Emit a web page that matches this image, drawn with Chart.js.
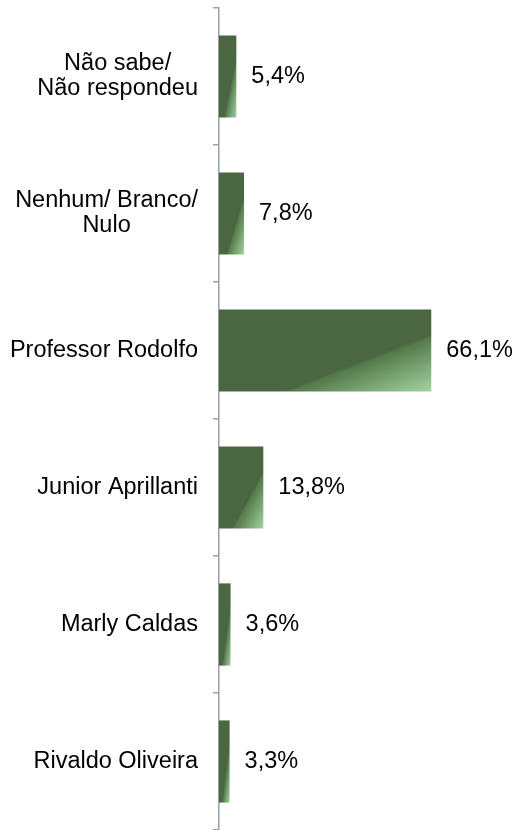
<!DOCTYPE html>
<html>
<head>
<meta charset="utf-8">
<script src="https://cdn.jsdelivr.net/npm/chart.js@4/dist/chart.umd.min.js"></script>
<style>
    html, body { margin: 0; padding: 0; background: #fff; }
    #wrap { width: 516px; height: 830px; position: relative; }
</style>
</head>
<body>
<div id="wrap"><canvas id="intencaoChart"></canvas></div>
<script>
const categories = [
    ['Não sabe/', 'Não respondeu'],
    ['Nenhum/ Branco/', 'Nulo'],
    ['Professor Rodolfo'],
    ['Junior Aprillanti'],
    ['Marly Caldas'],
    ['Rivaldo Oliveira']
];
const values = [5.4, 7.8, 66.1, 13.8, 3.6, 3.3];
const valueLabels = ['5,4%', '7,8%', '66,1%', '13,8%', '3,6%', '3,3%'];

const FONT = '23.5px "Liberation Sans", Arial, sans-serif';
const DARK = '#4a6741';
const LIGHT = '#a3d3a0';
const BAR_PCT = 0.6;

// diagonal fill, light corner at bottom right (like the office gradient)
const barFill = (context) => {
    const chart = context.chart;
    const area = chart.chartArea;
    if (!area || context.dataIndex === undefined) return DARK;
    const xs = chart.scales.x;
    const ys = chart.scales.y;
    const x0 = xs.getPixelForValue(0);
    const x1 = xs.getPixelForValue(values[context.dataIndex]);
    const thick = (area.bottom - area.top) / categories.length * BAR_PCT;
    const y0 = ys.getPixelForValue(context.dataIndex) - thick / 2;
    const w = Math.max(1, x1 - x0);
    const h = thick;
    const c = 2 * w * h / (w * w + h * h);
    const g = chart.ctx.createLinearGradient(x0, y0, x0 + c * h, y0 + c * w);
    g.addColorStop(0, DARK);
    g.addColorStop(0.65, DARK);
    g.addColorStop(0.67, '#557a4c');
    g.addColorStop(1, LIGHT);
    return g;
};

const labelPlugin = {
    id: 'labelPlugin',
    afterDraw(chart) {
        const ctx = chart.ctx;
        const ys = chart.scales.y;
        const meta = chart.getDatasetMeta(0);
        ctx.save();
        ctx.font = FONT;
        ctx.fillStyle = '#000';
        ctx.textBaseline = 'middle';
        const lineH = 25;
        categories.forEach((lines, i) => {
            const yc = ys.getPixelForTick(i);
            const maxW = Math.max(...lines.map(l => ctx.measureText(l).width));
            const cx = 198 - maxW / 2;
            ctx.textAlign = 'center';
            lines.forEach((line, j) => {
                const y = yc + (j - (lines.length - 1) / 2) * lineH;
                ctx.fillText(line, cx, y);
            });
            const bar = meta.data[i];
            ctx.textAlign = 'left';
            ctx.fillText(valueLabels[i], bar.x + 15, bar.y);
        });
        ctx.restore();
    }
};

new Chart(document.getElementById('intencaoChart').getContext('2d'), {
    type: 'bar',
    data: {
        labels: categories,
        datasets: [{
            data: values,
            backgroundColor: barFill,
            borderWidth: 0,
            categoryPercentage: 1,
            barPercentage: BAR_PCT
        }]
    },
    options: {
        indexAxis: 'y',
        responsive: true,
        maintainAspectRatio: false,
        animation: false,
        layout: { padding: { top: 8, bottom: 0, left: 0, right: 8 } },
        plugins: {
            legend: { display: false },
            tooltip: { enabled: false }
        },
        scales: {
            x: {
                display: false,
                min: 0,
                max: 90
            },
            y: {
                afterFit: (scale) => { scale.width = 219; },
                border: { display: true, color: '#9a9fa6', width: 1.5 },
                grid: {
                    offset: true,
                    drawOnChartArea: false,
                    drawTicks: true,
                    tickLength: 6,
                    color: '#9a9fa6',
                    lineWidth: 1.5
                },
                ticks: { display: false }
            }
        }
    },
    plugins: [labelPlugin]
});
</script>
</body>
</html>
